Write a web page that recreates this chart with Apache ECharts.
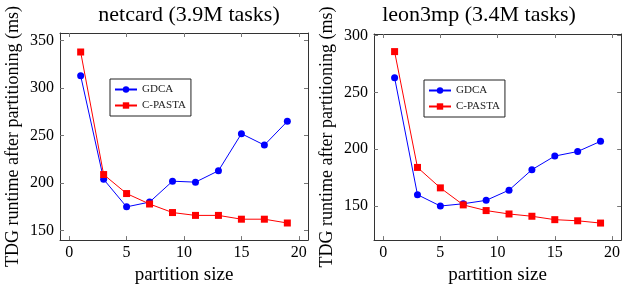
<!DOCTYPE html>
<html>
<head>
<meta charset="utf-8">
<script src="https://cdn.jsdelivr.net/npm/echarts@6/dist/echarts.min.js"></script>
<style>
  html, body { margin: 0; padding: 0; background: #fff; }
  #chart { width: 623px; height: 290px; }
</style>
</head>
<body>
<div id="chart"></div>
<script>
// partition sizes (x)
var partitionSizes = [1, 3, 5, 7, 9, 11, 13, 15, 17, 19];
var xTicks = [0, 5, 10, 15, 20];

// netcard (3.9M tasks)
var netcardGdca = [313, 204, 175, 180, 202, 201, 213, 252, 240, 265];
var netcardCpasta = [338, 209, 189, 178, 169, 166, 166, 162, 162, 158];
var netcardTicks = [150, 200, 250, 300, 350];

// leon3mp (3.4M tasks)
var leonGdca = [263, 160, 150, 152, 155, 164, 182, 194, 198, 207];
var leonCpasta = [286, 184, 166, 151, 146, 143, 141, 138, 137, 135];
var leonTicks = [150, 200, 250, 300];

var font = "Liberation Serif";

function pairs(ys) {
  return partitionSizes.map(function (x, i) { return [x, ys[i]]; });
}

function xAxes(gridIndex) {
  var base = {
    type: "value",
    gridIndex: gridIndex,
    min: -0.8,
    max: 20.8,
    splitLine: { show: false },
    axisLine: { show: true, onZero: false, lineStyle: { color: "#333", width: 1 } },
    axisTick: { show: true, inside: true, length: 4, customValues: xTicks, lineStyle: { color: "#777" } }
  };
  var bottom = Object.assign({}, base, {
    position: "bottom",
    name: "partition size",
    nameLocation: "middle",
    nameGap: 23,
    nameTextStyle: { fontFamily: font, fontSize: 19, color: "#000" },
    axisLabel: { customValues: xTicks, fontFamily: font, fontSize: 16, color: "#000", margin: 5 }
  });
  var top = Object.assign({}, base, {
    position: "top",
    axisLabel: { show: false }
  });
  return [bottom, top];
}

function yAxes(gridIndex, min, max, ticks) {
  var base = {
    type: "value",
    gridIndex: gridIndex,
    min: min,
    max: max,
    splitLine: { show: false },
    axisLine: { show: true, onZero: false, lineStyle: { color: "#333", width: 1 } },
    axisTick: { show: true, inside: true, length: 4, customValues: ticks, lineStyle: { color: "#777" } }
  };
  var left = Object.assign({}, base, {
    position: "left",
    name: "TDG runtime after partitioning (ms)",
    nameLocation: "middle",
    nameGap: 38,
    nameTextStyle: { fontFamily: font, fontSize: 18, color: "#000" },
    axisLabel: { customValues: ticks, fontFamily: font, fontSize: 16, color: "#000", margin: 6 }
  });
  var right = Object.assign({}, base, {
    position: "right",
    axisLabel: { show: false }
  });
  return [left, right];
}

function lineSeries(name, data, axisIdx, color, symbol) {
  return {
    name: name,
    type: "line",
    xAxisIndex: axisIdx,
    yAxisIndex: axisIdx,
    data: pairs(data),
    symbol: symbol,
    symbolSize: 7,
    showSymbol: true,
    animation: false,
    lineStyle: { color: color, width: 1 },
    itemStyle: { color: color }
  };
}

function legendAt(left, top) {
  return {
    data: ["GDCA", "C-PASTA"],
    orient: "vertical",
    left: left,
    top: top,
    itemWidth: 22,
    itemHeight: 8,
    itemGap: 5,
    padding: [5, 5, 5, 4],
    borderColor: "#222",
    borderWidth: 1,
    selectedMode: false,
    textStyle: { fontFamily: font, fontSize: 11, color: "#222" }
  };
}

var chart = echarts.init(document.getElementById("chart"));
chart.setOption({
  animation: false,
  title: [
    { text: "netcard (3.9M tasks)", left: 184, top: -1, textAlign: "center",
      textStyle: { fontFamily: font, fontSize: 22, fontWeight: "normal", color: "#000" } },
    { text: "leon3mp (3.4M tasks)", left: 474, top: -1, textAlign: "center",
      textStyle: { fontFamily: font, fontSize: 22, fontWeight: "normal", color: "#000" } }
  ],
  legend: [legendAt(110, 79), legendAt(424, 80)],
  grid: [
    { left: 60, top: 33, width: 248, height: 208 },
    { left: 374, top: 34, width: 250, height: 207 }
  ],
  xAxis: xAxes(0).concat(xAxes(1)),
  yAxis: yAxes(0, 140, 358, netcardTicks).concat(yAxes(1, 120, 301.5, leonTicks)),
  series: [
    lineSeries("GDCA", netcardGdca, 0, "#0000ff", "circle"),
    lineSeries("C-PASTA", netcardCpasta, 0, "#ff0000", "rect"),
    lineSeries("GDCA", leonGdca, 2, "#0000ff", "circle"),
    lineSeries("C-PASTA", leonCpasta, 2, "#ff0000", "rect")
  ]
});
</script>
</body>
</html>
